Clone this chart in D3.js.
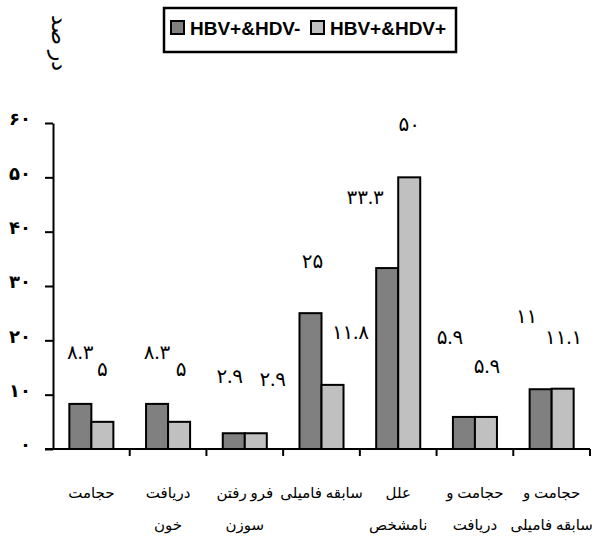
<!DOCTYPE html>
<html>
<head>
<meta charset="utf-8">
<script src="https://cdn.jsdelivr.net/npm/d3@7/dist/d3.min.js"></script>
<style>
  body { margin: 0; background: #fff; }
  .fa { font-family: "Liberation Serif", "DejaVu Sans", serif; }
</style>
</head>
<body>
<div id="chart"></div>
<script>
// categories, bottom labels (two lines each), left to right
const categories = ["c1", "c2", "c3", "c4", "c5", "c6", "c7"];
const catLine1 = ["حجامت", "دریافت", "فرو رفتن", "سابقه فامیلی", "علل", "حجامت و", "حجامت و"];
const catLine2 = ["", "خون", "سوزن", "", "نامشخص", "دریافت", "سابقه فامیلی"];

const seriesNames = ["HBV+&HDV-", "HBV+&HDV+"];
const hdvNeg = [8.3, 8.3, 2.9, 25, 33.3, 5.9, 11];
const hdvPos = [5, 5, 2.9, 11.8, 50, 5.9, 11.1];

const yTicks = [0, 10, 20, 30, 40, 50, 60];

// where each value label sits relative to its bar top (px), as in the original
const labelShiftNeg = [[0, -51], [0, -51], [-4, -56], [2, -51], [-22, -70], [-14, -79], [-14, -72]];
const labelShiftPos = [[0, -52], [2, -52], [17, -53], [18, -52], [0, -52], [1, -50], [1, -51]];

const colors = ["#808080", "#c0c0c0"];

const W = 592, H = 540;
const plotLeft = 53, plotRight = 590, plotTop = 123, plotBottom = 449;

const faDigits = s => String(s).replace(/[0-9]/g, d => "۰۱۲۳۴۵۶۷۸۹"[+d]);

const svg = d3.select("#chart").append("svg")
  .attr("width", W).attr("height", H);

const x0 = d3.scaleBand().domain(categories).range([plotLeft, plotRight]).padding(0);
const x1 = d3.scaleBand().domain(seriesNames)
  .range([x0.bandwidth() * 0.213, x0.bandwidth() * 0.787]).padding(0);
const y = d3.scaleLinear().domain([0, 60]).range([plotBottom, plotTop]);

const rows = categories.map((c, i) => ({
  cat: c,
  vals: [
    { s: seriesNames[0], v: hdvNeg[i], shift: labelShiftNeg[i] },
    { s: seriesNames[1], v: hdvPos[i], shift: labelShiftPos[i] }
  ]
}));

// y axis
const yAxis = svg.append("g")
  .attr("transform", `translate(${plotLeft},0)`)
  .call(d3.axisLeft(y).tickValues(yTicks).tickSize(8).tickSizeOuter(0).tickPadding(14)
    .tickFormat(faDigits));
yAxis.select(".domain").attr("stroke", "#000").attr("stroke-width", 2);
yAxis.selectAll(".tick line").attr("stroke", "#000").attr("stroke-width", 2);
yAxis.selectAll(".tick text")
  .attr("class", "fa")
  .attr("dy", "0.1em")
  .style("font-size", "18px").style("font-weight", "bold").attr("fill", "#000");

// bars
const groups = svg.selectAll(".grp").data(rows).enter().append("g")
  .attr("transform", d => `translate(${x0(d.cat)},0)`);

groups.selectAll("rect").data(d => d.vals).enter().append("rect")
  .attr("x", d => x1(d.s))
  .attr("y", d => y(d.v))
  .attr("width", x1.bandwidth())
  .attr("height", d => y(0) - y(d.v))
  .attr("fill", (d, i) => colors[i])
  .attr("stroke", "#000").attr("stroke-width", 2);

groups.selectAll("text.val").data(d => d.vals).enter().append("text")
  .attr("class", "val fa")
  .attr("x", d => x1(d.s) + x1.bandwidth() / 2 + d.shift[0])
  .attr("y", d => y(d.v) + d.shift[1])
  .attr("dy", "0.3em")
  .attr("text-anchor", "middle")
  .style("font-size", "20px")
  .text(d => faDigits(d.v));

// x axis
svg.append("line")
  .attr("x1", plotLeft - 8).attr("x2", plotRight)
  .attr("y1", y(0)).attr("y2", y(0))
  .attr("stroke", "#000").attr("stroke-width", 2);
svg.selectAll(".xtick").data(categories).enter().append("line")
  .attr("x1", d => x0(d) + x0.step()).attr("x2", d => x0(d) + x0.step())
  .attr("y1", y(0)).attr("y2", y(0) + 7)
  .attr("stroke", "#000").attr("stroke-width", 2);

// category labels
const catText = svg.selectAll(".cat").data(categories).enter().append("g");
catText.append("text")
  .attr("class", "fa")
  .attr("x", d => x0(d) + x0.bandwidth() / 2)
  .attr("y", 498)
  .attr("text-anchor", "middle")
  .style("font-size", "15px")
  .text((d, i) => catLine1[i]);
catText.append("text")
  .attr("class", "fa")
  .attr("x", d => x0(d) + x0.bandwidth() / 2)
  .attr("y", 530)
  .attr("text-anchor", "middle")
  .style("font-size", "15px")
  .text((d, i) => catLine2[i]);

// y title
svg.append("text")
  .attr("class", "fa")
  .attr("transform", "translate(52,43) rotate(90)")
  .attr("text-anchor", "middle")
  .style("font-size", "22px")
  .text("در صد");

// legend
const legend = svg.append("g");
legend.append("rect")
  .attr("x", 164).attr("y", 8).attr("width", 292).attr("height", 44)
  .attr("fill", "#fff").attr("stroke", "#000").attr("stroke-width", 2.5);
const legX = [171, 311];
seriesNames.forEach((s, i) => {
  legend.append("rect")
    .attr("x", legX[i]).attr("y", 21).attr("width", 13).attr("height", 13)
    .attr("fill", colors[i]).attr("stroke", "#000").attr("stroke-width", 2);
  legend.append("text")
    .attr("x", legX[i] + 19).attr("y", 35)
    .style("font-family", "'Liberation Sans', Arial, sans-serif")
    .style("font-weight", "bold").style("font-size", "19px")
    .text(s);
});
</script>
</body>
</html>
